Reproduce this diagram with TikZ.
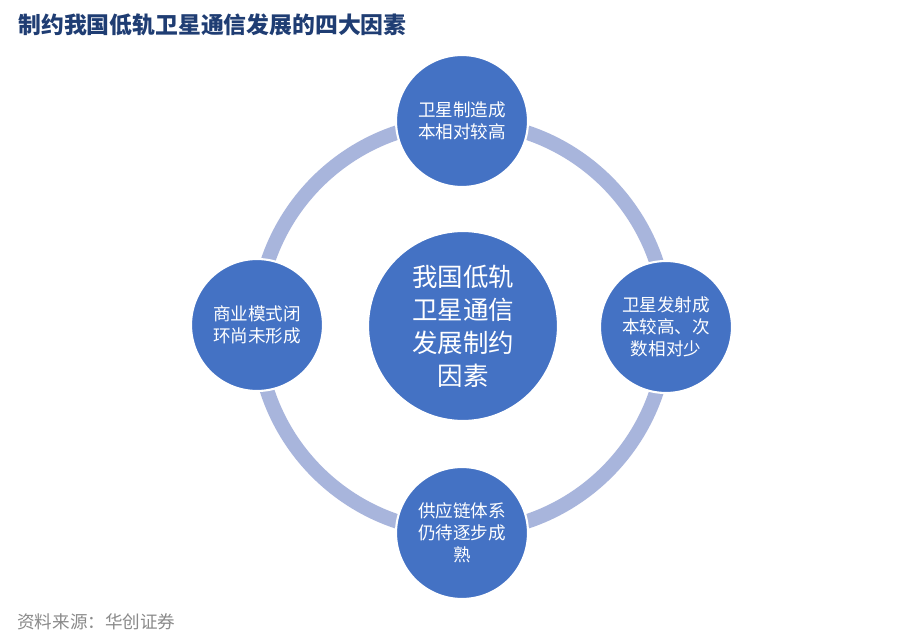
\documentclass[tikz,border=0pt]{standalone}
\usepackage{fontspec}
\setmainfont{Noto Sans CJK SC}
\usepackage{tikz}
\usepackage{xcolor}
\usetikzlibrary{positioning}
\definecolor{titleblue}{HTML}{1F3D73}
\definecolor{discblue}{HTML}{4472C4}
\definecolor{ringblue}{HTML}{A8B5DC}
\definecolor{sourcegray}{HTML}{8A8A8A}
\tikzset{
  factordisc/.style={
    circle, fill=discblue, draw=white, line width=1.2pt,
    minimum size=2.64cm, inner sep=0pt, align=center,
    text=white, font=\fontsize{10}{12.6}\selectfont
  },
  coredisc/.style={
    factordisc, minimum size=3.8cm,
    font=\fontsize{14.5}{18.8}\selectfont
  },
  ringline/.style={draw=ringblue, line width=0.29cm},
  heading/.style={anchor=west, inner sep=0pt, text=titleblue,
    font=\bfseries\fontsize{13}{15}\selectfont},
  sourcenote/.style={anchor=west, inner sep=0pt, text=sourcegray,
    font=\fontsize{10}{12}\selectfont}
}

\begin{document}
\begin{tikzpicture}[x=0.02cm, y=-0.02cm]
  \useasboundingbox[fill=white] (0,0) rectangle (916,635);
  \node[heading] (title) at (18,25) {制约我国低轨卫星通信发展的四大因素};
  \node[sourcenote] (source) at (17,622) {资料来源：华创证券};

  % ring behind the discs
  \coordinate (hub) at (462,327);
  \draw[ringline] (hub) circle[radius=4.1cm];

  \node[coredisc] (core) at (463,326) {我国低轨\\卫星通信\\发展制约\\因素};
  \node[factordisc] (cost) at (462,121) {卫星制造成\\本相对较高};
  \node[factordisc] (launch) at (666,327) {卫星发射成\\本较高、次\\数相对少};
  \node[factordisc] (chain) at (462,533) {供应链体系\\仍待逐步成\\熟};
  \node[factordisc] (model) at (257,325) {商业模式闭\\环尚未形成};
\end{tikzpicture}
\end{document}
